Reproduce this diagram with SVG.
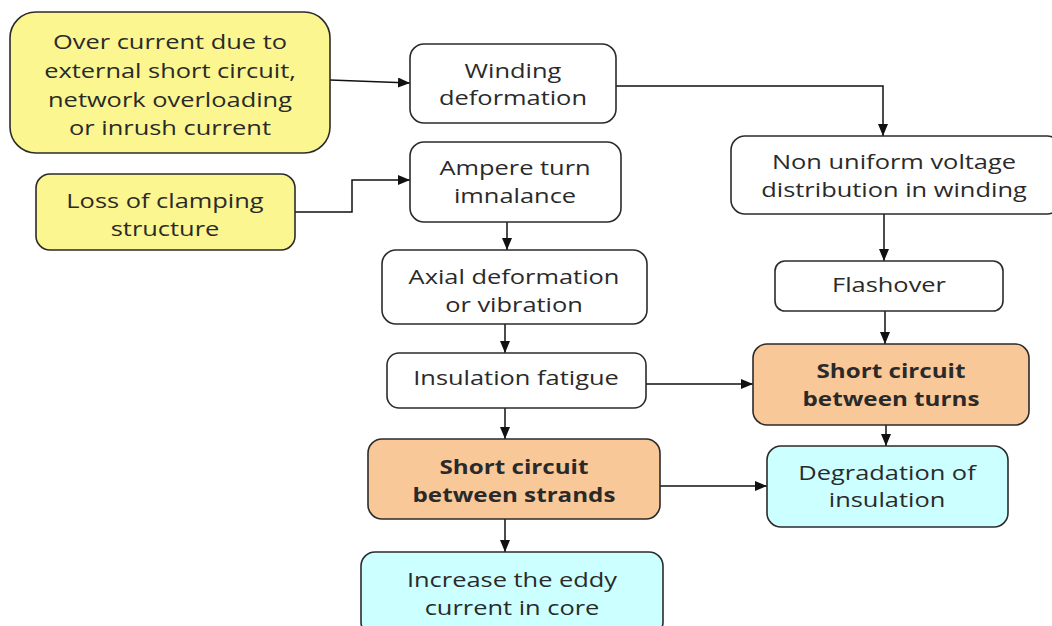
<svg xmlns="http://www.w3.org/2000/svg" width="1052" height="626" viewBox="0 0 1052 626">
  <defs>
    <marker id="arrow" viewBox="0 0 12 10" refX="12" refY="5" markerWidth="12" markerHeight="10" markerUnits="userSpaceOnUse" orient="auto">
      <path d="M0,0 L12,5 L0,10 Z" fill="#111"/>
    </marker>
  </defs>
  <style>
    .box { stroke: #2b2b2b; stroke-width: 1.6; }
    .plain { fill: #ffffff; }
    .cause { fill: #fbf68f; }
    .fault { fill: #f9c898; }
    .effect { fill: #ccffff; }
    text { font-family: "Open Sans", "Noto Sans", sans-serif; font-size: 20px; fill: #2a2a2a; text-anchor: middle; dominant-baseline: central; }
    .bold { font-weight: bold; }
    .wire { fill: none; stroke: #111; stroke-width: 1.5; marker-end: url(#arrow); }
  </style>
  <rect width="1052" height="626" fill="#ffffff"/>

  <g id="connectors">
    <path class="wire" d="M330,80 L410,83"/>
    <path class="wire" d="M616,86 L883,86 L883,136"/>
    <path class="wire" d="M295,212 L352,212 L352,180 L410,180"/>
    <path class="wire" d="M507,222 L507,250"/>
    <path class="wire" d="M505,324 L505,353"/>
    <path class="wire" d="M505,408 L505,439"/>
    <path class="wire" d="M646,384 L753,384"/>
    <path class="wire" d="M884,214 L884,261"/>
    <path class="wire" d="M885,311 L885,344"/>
    <path class="wire" d="M886,425 L886,446"/>
    <path class="wire" d="M660,486 L767,486"/>
    <path class="wire" d="M505,519 L505,552"/>
  </g>

  <!-- labels are set in a widened face: each line is centred then stretched horizontally -->
  <g id="over-current">
    <rect class="box cause" x="10" y="12" width="320" height="141" rx="26"/>
    <text transform="translate(170,42) scale(1.27,1)">Over current due to</text>
    <text transform="translate(170,71) scale(1.27,1)">external short circuit,</text>
    <text transform="translate(170,100) scale(1.27,1)">network overloading</text>
    <text transform="translate(170,128) scale(1.27,1)">or inrush current</text>
  </g>

  <g id="loss-of-clamping">
    <rect class="box cause" x="36" y="174" width="259" height="76" rx="14"/>
    <text transform="translate(165,201) scale(1.27,1)">Loss of clamping</text>
    <text transform="translate(165,229) scale(1.27,1)">structure</text>
  </g>

  <g id="winding-deformation">
    <rect class="box plain" x="410" y="44" width="206" height="79" rx="14"/>
    <text transform="translate(513,71) scale(1.27,1)">Winding</text>
    <text transform="translate(513,98) scale(1.27,1)">deformation</text>
  </g>

  <g id="ampere-turn">
    <rect class="box plain" x="410" y="142" width="211" height="80" rx="14"/>
    <text transform="translate(515,168) scale(1.27,1)">Ampere turn</text>
    <text transform="translate(515,196) scale(1.27,1)">imnalance</text>
  </g>

  <g id="axial-deformation">
    <rect class="box plain" x="382" y="250" width="265" height="74" rx="14"/>
    <text transform="translate(514,277) scale(1.27,1)">Axial deformation</text>
    <text transform="translate(514,305) scale(1.27,1)">or vibration</text>
  </g>

  <g id="insulation-fatigue">
    <rect class="box plain" x="387" y="353" width="259" height="55" rx="12"/>
    <text transform="translate(516,378) scale(1.27,1)">Insulation fatigue</text>
  </g>

  <g id="short-circuit-strands">
    <rect class="box fault" x="368" y="439" width="292" height="80" rx="14"/>
    <text class="bold" transform="translate(514,466) scale(1.21,1)">Short circuit</text>
    <text class="bold" transform="translate(514,494) scale(1.21,1)">between strands</text>
  </g>

  <g id="eddy-current">
    <rect class="box effect" x="361" y="552" width="302" height="84" rx="14"/>
    <text transform="translate(512,580) scale(1.27,1)">Increase the eddy</text>
    <text transform="translate(512,608) scale(1.27,1)">current in core</text>
  </g>

  <g id="non-uniform-voltage">
    <rect class="box plain" x="731" y="136" width="330" height="78" rx="14"/>
    <text transform="translate(894,162) scale(1.27,1)">Non uniform voltage</text>
    <text transform="translate(894,190) scale(1.27,1)">distribution in winding</text>
  </g>

  <g id="flashover">
    <rect class="box plain" x="775" y="261" width="228" height="50" rx="10"/>
    <text transform="translate(889,285) scale(1.27,1)">Flashover</text>
  </g>

  <g id="short-circuit-turns">
    <rect class="box fault" x="753" y="344" width="276" height="81" rx="14"/>
    <text class="bold" transform="translate(891,370) scale(1.21,1)">Short circuit</text>
    <text class="bold" transform="translate(891,398) scale(1.21,1)">between turns</text>
  </g>

  <g id="degradation">
    <rect class="box effect" x="767" y="446" width="241" height="81" rx="14"/>
    <text transform="translate(887,473) scale(1.27,1)">Degradation of</text>
    <text transform="translate(887,500) scale(1.27,1)">insulation</text>
  </g>
</svg>
